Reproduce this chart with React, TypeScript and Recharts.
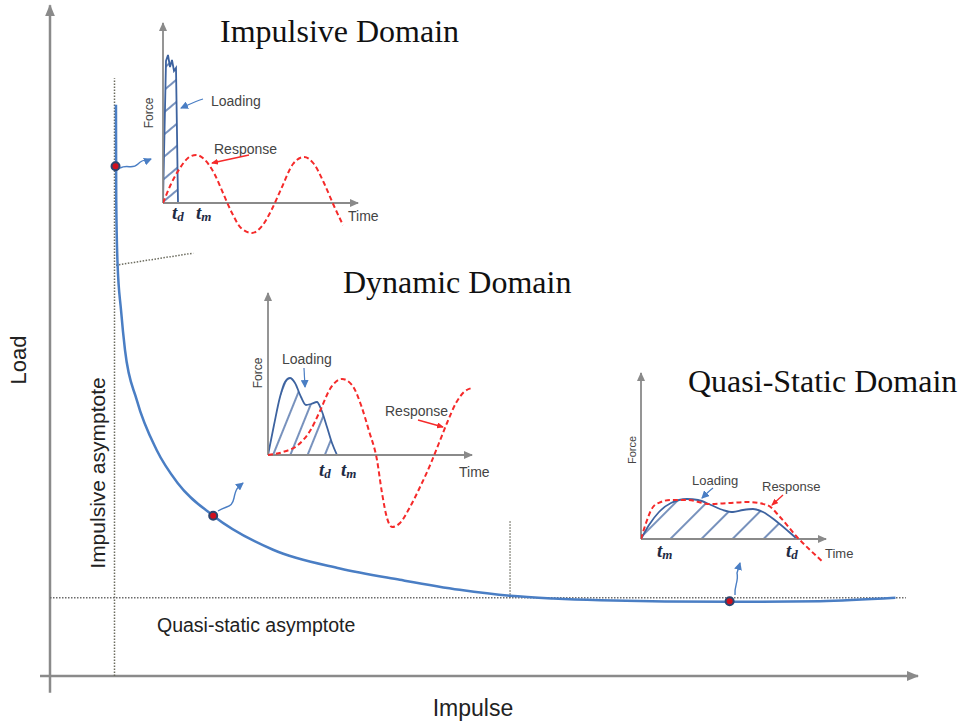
import React from "react";
import {
  ComposedChart,
  Line,
  Area,
  XAxis,
  YAxis,
  ReferenceLine,
  ReferenceDot,
} from "recharts";

// main pressure-impulse curve (impulse, load in % of axis length)
const impulse = [7.6, 7.61, 7.63, 7.78, 8.18, 8.64, 10.0, 12.3, 14.7, 18.8, 25.7, 33.4, 40.3, 47.2, 53.0, 58.0, 63.4, 78.3, 88.7, 97.4];
const load = [85.5, 80.2, 71.3, 61.8, 54.8, 48.8, 41.3, 33.8, 28.9, 24.0, 18.9, 16.1, 14.4, 12.9, 12.0, 11.6, 11.35, 11.1, 11.2, 11.7];

// marked points on the curve
const dotImpulse = [7.55, 18.8, 78.3];
const dotLoad = [76.3, 24.0, 11.2];

const impulsiveAsymptote = 7.43;
const quasiStaticAsymptote = 11.7;

// impulsive domain inset
const impLoadT = [0, 0.3, 0.5, 0.7, 0.9, 1.1, 1.3, 1.4, 1.5];
const impLoadF = [0, 14.2, 14.8, 13.6, 14.3, 13.2, 13.5, 7.0, 0];
const impRespT = [0, 0.8, 1.7, 2.5, 3.3, 4.2, 5.1, 6.0, 6.9, 7.8, 8.9, 9.9, 10.9, 11.9, 13.0, 14.1, 15.1, 16.1, 17.1, 18.0];
const impRespF = [0, 1.9, 3.5, 4.5, 4.8, 4.3, 3.0, 1.0, -1.0, -2.5, -3.0, -2.3, -0.6, 1.6, 3.9, 4.6, 3.9, 2.0, -0.3, -2.2];

// dynamic domain inset
const dynLoadT = [0, 0.6, 1.2, 1.7, 2.2, 2.7, 3.3, 3.8, 4.3, 4.9, 5.3, 5.9, 6.4, 6.9];
const dynLoadF = [0, 3.0, 5.8, 7.3, 7.7, 7.2, 5.8, 5.0, 5.1, 5.3, 4.6, 2.8, 1.2, 0];
const dynRespT = [0, 1.5, 3.0, 4.2, 5.2, 6.2, 7.4, 8.4, 9.3, 10.1, 10.9, 11.4, 11.9, 12.4, 13.2, 14.2, 15.3, 16.3, 17.1, 17.9, 18.8, 19.6, 20.4];
const dynRespF = [0, 0.3, 1.0, 2.4, 4.4, 6.6, 7.6, 7.0, 5.0, 2.4, -0.5, -3.8, -6.3, -7.2, -6.8, -5.2, -3.0, -0.8, 1.2, 3.2, 5.2, 6.3, 6.7];

// quasi-static domain inset
const qsLoadT = [0, 0.8, 1.8, 3.0, 4.6, 5.7, 7.0, 8.2, 9.2, 10.2, 11.2, 12.2, 13.5, 14.7, 15.6];
const qsLoadF = [0, 1.4, 2.7, 3.6, 4.0, 3.9, 3.4, 2.9, 2.7, 2.9, 3.0, 2.7, 1.8, 0.8, 0];
const qsRespT = [0, 0.5, 1.2, 2.0, 2.9, 4.6, 6.9, 8.8, 10.6, 12.6, 13.9, 15.6, 16.9, 18.2];
const qsRespF = [0, 1.6, 3.2, 3.7, 3.9, 3.9, 3.5, 3.6, 3.7, 3.4, 2.2, 0.2, -1.1, -2.3];

const CURVE_BLUE = "#4a7ec4";
const LOAD_BLUE = "#3d63a0";
const RESP_RED = "#f52a2a";
const AXIS_GRAY = "#8a8a8a";
const SANS = "'Liberation Sans', Arial, sans-serif";
const SERIF = "'Liberation Serif', 'Times New Roman', serif";

const zip = (t: number[], f: number[]) => t.map((v, i) => ({ t: v, f: f[i] }));

const arrowLine = (markerId: string, stroke: string, width: number) => (p: any) => (
  <line
    x1={p.x1}
    y1={p.y1}
    x2={p.x2}
    y2={p.y2}
    stroke={stroke}
    strokeWidth={width}
    markerEnd={`url(#${markerId})`}
  />
);

interface InsetProps {
  id: string;
  left: number;
  top: number;
  width: number;
  height: number;
  xMax: number;
  yMin: number;
  yMax: number;
  loading: { t: number; f: number }[];
  response: { t: number; f: number }[];
  hatchAngle: number;
  hatchGap: number;
  loadType: "linear" | "monotone";
}

function Inset(props: InsetProps) {
  const m = 12;
  const { id } = props;
  return (
    <div style={{ position: "absolute", left: props.left - m, top: props.top - m }}>
      <ComposedChart
        width={props.width + 2 * m}
        height={props.height + 2 * m}
        margin={{ top: m, right: m, bottom: m, left: m }}
      >
        <defs>
          <pattern
            id={`hatch-${id}`}
            patternUnits="userSpaceOnUse"
            width={10}
            height={props.hatchGap}
            patternTransform={`rotate(${-props.hatchAngle})`}
          >
            <line x1={0} y1={1} x2={10} y2={1} stroke={LOAD_BLUE} strokeWidth={1.4} />
          </pattern>
          <marker
            id={`arr-${id}`}
            markerWidth={9}
            markerHeight={8}
            refX={8}
            refY={4}
            orient="auto"
            markerUnits="userSpaceOnUse"
          >
            <path d="M0,0 L9,4 L0,8 z" fill="#8a8a8a" />
          </marker>
        </defs>
        <XAxis type="number" dataKey="t" domain={[0, props.xMax]} hide allowDataOverflow />
        <YAxis type="number" domain={[props.yMin, props.yMax]} hide allowDataOverflow />
        <ReferenceLine
          segment={[{ x: 0, y: 0 }, { x: props.xMax, y: 0 }]}
          ifOverflow="visible"
          shape={arrowLine(`arr-${id}`, "#8a8a8a", 1.8)}
        />
        <ReferenceLine
          segment={[{ x: 0, y: 0 }, { x: 0, y: props.yMax }]}
          ifOverflow="visible"
          shape={arrowLine(`arr-${id}`, "#8a8a8a", 1.8)}
        />
        <Area
          data={props.loading}
          dataKey="f"
          type={props.loadType}
          stroke={LOAD_BLUE}
          strokeWidth={1.8}
          fill={`url(#hatch-${id})`}
          fillOpacity={1}
          baseValue={0}
          dot={false}
          activeDot={false}
          isAnimationActive={false}
        />
        <Line
          data={props.response}
          dataKey="f"
          type="monotone"
          stroke={RESP_RED}
          strokeWidth={2}
          strokeDasharray="5 3"
          dot={false}
          activeDot={false}
          isAnimationActive={false}
        />
      </ComposedChart>
    </div>
  );
}

function Td({ x, y, sub }: { x: number; y: number; sub: string }) {
  return (
    <text x={x} y={y} fontFamily={SERIF} fontStyle="italic" fontWeight="bold" fontSize={19} fill="#1e2b45">
      t
      <tspan fontSize={13} dy={2}>
        {sub}
      </tspan>
    </text>
  );
}

export default function App() {
  const mainData = zip(impulse, load).map((d) => ({ impulse: d.t, load: d.f }));

  return (
    <div style={{ position: "absolute", left: 0, top: 0, width: 961, height: 723, background: "#fff" }}>
      <div style={{ position: "absolute", left: 0, top: 0 }}>
        <ComposedChart width={961} height={723} margin={{ top: 8, right: 43, bottom: 47, left: 50 }}>
          <defs>
            <marker
              id="mainArrow"
              markerWidth={12}
              markerHeight={10}
              refX={11}
              refY={5}
              orient="auto"
              markerUnits="userSpaceOnUse"
            >
              <path d="M0,0 L12,5 L0,10 z" fill={AXIS_GRAY} />
            </marker>
          </defs>
          <XAxis type="number" dataKey="impulse" domain={[0, 100]} hide allowDataOverflow />
          <YAxis type="number" domain={[0, 100]} hide allowDataOverflow />
          <ReferenceLine
            segment={[{ x: 0, y: -2.5 }, { x: 0, y: 100.4 }]}
            ifOverflow="visible"
            shape={arrowLine("mainArrow", AXIS_GRAY, 2.5)}
          />
          <ReferenceLine
            segment={[{ x: -1.15, y: 0 }, { x: 100, y: 0 }]}
            ifOverflow="visible"
            shape={arrowLine("mainArrow", AXIS_GRAY, 2.5)}
          />
          <ReferenceLine
            segment={[{ x: impulsiveAsymptote, y: 0 }, { x: impulsiveAsymptote, y: 89.5 }]}
            ifOverflow="visible"
            stroke="#6b6b5e"
            strokeWidth={1.5}
            strokeDasharray="1.5 1.5"
          />
          <ReferenceLine
            segment={[{ x: 0, y: quasiStaticAsymptote }, { x: 98.6, y: quasiStaticAsymptote }]}
            ifOverflow="visible"
            stroke="#6b6b6b"
            strokeWidth={1.5}
            strokeDasharray="1.5 1.5"
          />
          <ReferenceLine
            segment={[{ x: 7.6, y: 61.5 }, { x: 16.5, y: 63.3 }]}
            ifOverflow="visible"
            stroke="#6b6b5e"
            strokeWidth={1.5}
            strokeDasharray="1.5 1.5"
          />
          <ReferenceLine
            segment={[{ x: 53.0, y: quasiStaticAsymptote }, { x: 53.0, y: 23.4 }]}
            ifOverflow="visible"
            stroke="#6b6b5e"
            strokeWidth={1.3}
            strokeDasharray="1.5 1.5"
          />
          <Line
            data={mainData}
            dataKey="load"
            type="monotoneX"
            stroke={CURVE_BLUE}
            strokeWidth={2.5}
            dot={false}
            activeDot={false}
            isAnimationActive={false}
          />
          {dotImpulse.map((x, i) => (
            <ReferenceDot
              key={i}
              x={x}
              y={dotLoad[i]}
              r={4}
              fill="#d0101e"
              stroke="#2c4570"
              strokeWidth={2}
              ifOverflow="visible"
            />
          ))}
        </ComposedChart>
      </div>

      <Inset
        id="imp"
        left={163}
        top={23}
        width={195}
        height={220}
        xMax={19.5}
        yMin={-4}
        yMax={18}
        loading={zip(impLoadT, impLoadF)}
        response={zip(impRespT, impRespF)}
        hatchAngle={40}
        hatchGap={17}
        loadType="linear"
      />
      <Inset
        id="dyn"
        left={268}
        top={293}
        width={204}
        height={242}
        xMax={20.4}
        yMin={-8}
        yMax={16.2}
        loading={zip(dynLoadT, dynLoadF)}
        response={zip(dynRespT, dynRespF)}
        hatchAngle={68}
        hatchGap={16}
        loadType="monotone"
      />
      <Inset
        id="qs"
        left={641}
        top={373}
        width={185}
        height={196}
        xMax={18.5}
        yMin={-3}
        yMax={16.6}
        loading={zip(qsLoadT, qsLoadF)}
        response={zip(qsRespT, qsRespF)}
        hatchAngle={45}
        hatchGap={22}
        loadType="monotone"
      />

      <svg
        width={961}
        height={723}
        style={{ position: "absolute", left: 0, top: 0, pointerEvents: "none" }}
      >
        <defs>
          <marker id="blueTip" markerWidth={8} markerHeight={8} refX={7} refY={4} orient="auto" markerUnits="userSpaceOnUse">
            <path d="M0,0 L8,4 L0,8 z" fill={CURVE_BLUE} />
          </marker>
          <marker id="redTip" markerWidth={7} markerHeight={6} refX={6} refY={3} orient="auto" markerUnits="userSpaceOnUse">
            <path d="M0,0 L7,3 L0,6 z" fill={RESP_RED} />
          </marker>
        </defs>

        {/* titles */}
        <text x={220} y={42} fontFamily={SERIF} fontSize={32} fill="#111">Impulsive Domain</text>
        <text x={343} y={293} fontFamily={SERIF} fontSize={32} fill="#111">Dynamic Domain</text>
        <text x={688} y={392} fontFamily={SERIF} fontSize={32} fill="#111">Quasi-Static Domain</text>

        {/* main axis labels */}
        <text transform="translate(26,360) rotate(-90)" textAnchor="middle" fontFamily={SANS} fontSize={22} fill="#222">Load</text>
        <text x={473} y={716} textAnchor="middle" fontFamily={SANS} fontSize={23} fill="#222">Impulse</text>
        <text transform="translate(105,473) rotate(-90)" textAnchor="middle" fontFamily={SANS} fontSize={21} fill="#222">Impulsive asymptote</text>
        <text x={157} y={632} fontFamily={SANS} fontSize={19.5} fill="#222">Quasi-static asymptote</text>

        {/* pointers from the curve to the insets */}
        <path d="M120,168 C128,164 132,170 138,164 S146,161 151,159" fill="none" stroke={CURVE_BLUE} strokeWidth={1.4} markerEnd="url(#blueTip)" />
        <path d="M218,511 C228,505 232,508 234,498 S238,487 243,483" fill="none" stroke={CURVE_BLUE} strokeWidth={1.4} markerEnd="url(#blueTip)" />
        <path d="M735,595 C734,586 739,581 737,573 L740,563" fill="none" stroke={CURVE_BLUE} strokeWidth={1.4} markerEnd="url(#blueTip)" />

        {/* impulsive inset labels */}
        <text transform="translate(153,113) rotate(-90)" textAnchor="middle" fontFamily={SANS} fontSize={12} fill="#444">Force</text>
        <text x={211} y={106} fontFamily={SANS} fontSize={14} fill="#444">Loading</text>
        <path d="M203,99 C196,101 190,104 181,108" fill="none" stroke={CURVE_BLUE} strokeWidth={1.2} markerEnd="url(#blueTip)" />
        <text x={214} y={154} fontFamily={SANS} fontSize={14} fill="#444">Response</text>
        <path d="M249,155 L212,163" fill="none" stroke={RESP_RED} strokeWidth={1.3} markerEnd="url(#redTip)" />
        <text x={348} y={221} fontFamily={SANS} fontSize={14} fill="#444">Time</text>
        <Td x={172} y={219} sub="d" />
        <Td x={196} y={219} sub="m" />

        {/* dynamic inset labels */}
        <text transform="translate(262,373) rotate(-90)" textAnchor="middle" fontFamily={SANS} fontSize={12} fill="#444">Force</text>
        <text x={282} y={364} fontFamily={SANS} fontSize={14} fill="#444">Loading</text>
        <path d="M304,368 L305,387" fill="none" stroke={CURVE_BLUE} strokeWidth={1.2} markerEnd="url(#blueTip)" />
        <text x={385} y={416} fontFamily={SANS} fontSize={14} fill="#444">Response</text>
        <path d="M418,420 L443,427" fill="none" stroke={RESP_RED} strokeWidth={1.3} markerEnd="url(#redTip)" />
        <text x={459} y={477} fontFamily={SANS} fontSize={14} fill="#444">Time</text>
        <Td x={319} y={476} sub="d" />
        <Td x={341} y={476} sub="m" />

        {/* quasi-static inset labels */}
        <text transform="translate(636,450) rotate(-90)" textAnchor="middle" fontFamily={SANS} fontSize={11} fill="#444">Force</text>
        <text x={692} y={485} fontFamily={SANS} fontSize={13} fill="#444">Loading</text>
        <path d="M713,488 C709,491 706,494 702,498" fill="none" stroke={CURVE_BLUE} strokeWidth={1.2} markerEnd="url(#blueTip)" />
        <text x={762} y={491} fontFamily={SANS} fontSize={13} fill="#444">Response</text>
        <path d="M783,495 L772,505" fill="none" stroke={RESP_RED} strokeWidth={1.3} markerEnd="url(#redTip)" />
        <text x={825} y={558} fontFamily={SANS} fontSize={13} fill="#444">Time</text>
        <Td x={657} y={557} sub="m" />
        <Td x={786} y={557} sub="d" />
      </svg>
    </div>
  );
}
